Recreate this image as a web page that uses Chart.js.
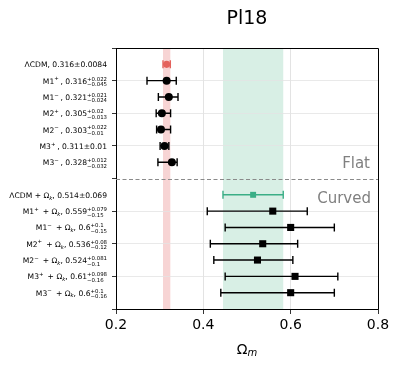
<!DOCTYPE html>
<html>
<head>
<meta charset="utf-8">
<script src="https://cdn.jsdelivr.net/npm/chart.js@4.4.1/dist/chart.umd.min.js"></script>
<style>
html,body{margin:0;padding:0;background:#fff;}
#wrap{width:399px;height:370px;position:relative;}
</style>
</head>
<body>
<div id="wrap"><canvas id="c" width="399" height="370"></canvas></div>
<script>
// ---- data ----
const titleText = 'Pl18';
const modelNames = ['ΛCDM', 'M1', 'M1', 'M2', 'M2', 'M3', 'M3'];
const modelSigns = ['', '+', '−', '+', '−', '+', '−'];
const flatRows = [1, 2, 3, 4, 5, 6, 7];
const flatCenter = [0.316, 0.316, 0.321, 0.305, 0.303, 0.311, 0.328];
const flatErrPlus = [0.0084, 0.022, 0.021, 0.02, 0.022, 0.01, 0.012];
const flatErrMinus = [0.0084, 0.045, 0.024, 0.013, 0.01, 0.01, 0.032];
const curvedRows = [9, 10, 11, 12, 13, 14, 15];
const curvedCenter = [0.514, 0.559, 0.6, 0.536, 0.524, 0.61, 0.6];
const curvedErrPlus = [0.069, 0.079, 0.1, 0.08, 0.081, 0.098, 0.1];
const curvedErrMinus = [0.069, 0.15, 0.15, 0.12, 0.1, 0.16, 0.16];
const xTicks = [0.2, 0.4, 0.6, 0.8];
const dividerRow = 8;
const groupLabels = ['Flat', 'Curved'];

const RED = '#e4625c', RED_BAND = '#f7d4d4';
const GREEN = '#3aae86', GREEN_BAND = '#d8efe5';
const FONT = '"DejaVu Sans"';
const BASE = 7.6, SMALL = 5.4;

function toPoints(rows, cen){ return rows.map((r,i)=>({x:cen[i], y:r})); }

function labelParts(i, curved){
  const c = curved ? curvedCenter[i] : flatCenter[i];
  const p = curved ? curvedErrPlus[i] : flatErrPlus[i];
  const m = curved ? curvedErrMinus[i] : flatErrMinus[i];
  const parts = [{t:modelNames[i], s:BASE}];
  if (modelSigns[i]) { parts.push({t:modelSigns[i]+' ', s:SMALL, dy:-3.3}); }
  if (curved) { parts.push({t:' + Ω', s:BASE}); parts.push({t:'k', s:SMALL, dy:1.8, it:true}); }
  parts.push({t:', ' + c, s:BASE});
  if (p === m) parts.push({t:'±' + p, s:BASE});
  else parts.push({sup:'+' + p, sub:'−' + m, s:SMALL});
  return parts;
}
function fontOf(p){ return (p.it ? 'italic ' : '') + p.s + 'px ' + FONT; }
function drawRich(ctx, parts, rightX, y){
  let w = 0;
  const widths = parts.map(p=>{
    ctx.font = fontOf(p);
    const ww = p.sup !== undefined ? Math.max(ctx.measureText(p.sup).width, ctx.measureText(p.sub).width) : ctx.measureText(p.t).width;
    w += ww; return ww;
  });
  let x = rightX - w;
  ctx.textAlign = 'left'; ctx.textBaseline = 'alphabetic'; ctx.fillStyle = '#000';
  parts.forEach((p,k)=>{
    ctx.font = fontOf(p);
    if (p.sup !== undefined){
      ctx.fillText(p.sup, x, y - 3.1);
      ctx.fillText(p.sub, x, y + 2.5);
    } else {
      ctx.fillText(p.t, x, y + (p.dy||0));
    }
    x += widths[k];
  });
}

const customPlugin = {
  id: 'custom',
  beforeDraw(chart){
    const {ctx, chartArea:a, scales:{x}} = chart;
    ctx.save();
    ctx.fillStyle = '#fff'; ctx.fillRect(0,0,chart.width,chart.height);
    const band = (c, e, col)=>{
      const x0 = x.getPixelForValue(c - e), x1 = x.getPixelForValue(c + e);
      ctx.fillStyle = col; ctx.fillRect(x0, a.top, x1 - x0, a.bottom - a.top);
    };
    band(flatCenter[0], flatErrPlus[0], RED_BAND);
    band(curvedCenter[0], curvedErrPlus[0], GREEN_BAND);
    ctx.restore();
  },
  beforeDatasetsDraw(chart){
    const {ctx, chartArea:a, scales:{x,y}} = chart;
    ctx.save();
    ctx.strokeStyle = '#8a8a8a'; ctx.lineWidth = 1; ctx.setLineDash([4,2.5]);
    const yd = Math.round(y.getPixelForValue(dividerRow)) + 0.5;
    ctx.beginPath(); ctx.moveTo(a.left, yd); ctx.lineTo(a.right, yd); ctx.stroke();
    ctx.setLineDash([]);
    const bars = (rows, cen, ep, em, curved)=>{
      rows.forEach((r,i)=>{
        const yy = y.getPixelForValue(r);
        const x0 = x.getPixelForValue(cen[i] - em[i]);
        const x1 = x.getPixelForValue(cen[i] + ep[i]);
        ctx.strokeStyle = i === 0 ? (curved ? GREEN : RED) : '#000';
        ctx.lineWidth = 1.4;
        ctx.beginPath();
        ctx.moveTo(x0, yy); ctx.lineTo(x1, yy);
        ctx.moveTo(x0, yy - 4); ctx.lineTo(x0, yy + 4);
        ctx.moveTo(x1, yy - 4); ctx.lineTo(x1, yy + 4);
        ctx.stroke();
      });
    };
    bars(flatRows, flatCenter, flatErrPlus, flatErrMinus, false);
    bars(curvedRows, curvedCenter, curvedErrPlus, curvedErrMinus, true);
    ctx.restore();
  },
  afterDraw(chart){
    const {ctx, chartArea:a, scales:{x,y}} = chart;
    ctx.save();
    ctx.strokeStyle = '#000'; ctx.lineWidth = 1;
    ctx.beginPath();
    ctx.moveTo(a.left, a.top + 0.5); ctx.lineTo(a.right + 0.5, a.top + 0.5); ctx.lineTo(a.right + 0.5, a.bottom);
    ctx.stroke();
    flatRows.forEach((r,i)=> drawRich(ctx, labelParts(i,false), a.left - 9, y.getPixelForValue(r) + 3));
    curvedRows.forEach((r,i)=> drawRich(ctx, labelParts(i,true), a.left - 9, y.getPixelForValue(r) + 3));
    ctx.fillStyle = '#808080'; ctx.font = '15px ' + FONT; ctx.textAlign = 'right'; ctx.textBaseline = 'alphabetic';
    ctx.fillText(groupLabels[0], a.right - 8, y.getPixelForValue(dividerRow) - 11);
    ctx.fillText(groupLabels[1], a.right - 7, y.getPixelForValue(dividerRow) + 24);
    ctx.fillStyle = '#000'; ctx.font = '19px ' + FONT; ctx.textAlign = 'center';
    ctx.fillText(titleText, (a.left + a.right)/2, 24);
    ctx.font = '14px ' + FONT; ctx.textAlign = 'left';
    const wO = ctx.measureText('Ω').width;
    ctx.font = 'italic 10px ' + FONT;
    const wm = ctx.measureText('m').width;
    const cx = (a.left + a.right)/2 - (wO + wm)/2;
    ctx.font = '14px ' + FONT; ctx.fillText('Ω', cx, 354);
    ctx.font = 'italic 10px ' + FONT; ctx.fillText('m', cx + wO, 356);
    ctx.restore();
  }
};

new Chart(document.getElementById('c'), {
  type: 'scatter',
  data: {
    datasets: [
      { data: toPoints(flatRows, flatCenter), pointStyle: 'circle',
        pointRadius: flatRows.map((r,i)=> i===0 ? 3.6 : 4),
        pointBackgroundColor: flatRows.map((r,i)=> i===0 ? RED : '#000'),
        pointBorderColor: flatRows.map((r,i)=> i===0 ? RED : '#000'), pointBorderWidth: 0 },
      { data: toPoints(curvedRows, curvedCenter), pointStyle: 'rect',
        pointRadius: curvedRows.map((r,i)=> i===0 ? 4.2 : 5),
        pointBackgroundColor: curvedRows.map((r,i)=> i===0 ? GREEN : '#000'),
        pointBorderColor: curvedRows.map((r,i)=> i===0 ? GREEN : '#000'), pointBorderWidth: 0 }
    ]
  },
  options: {
    responsive: false, animation: false, devicePixelRatio: 1,
    layout: { padding: { top: 48, right: 21, left: 0, bottom: 0 } },
    plugins: { legend: {display:false}, tooltip: {enabled:false}, title: {display:false} },
    scales: {
      x: {
        type: 'linear', min: 0.2, max: 0.8,
        afterBuildTicks(s){ s.ticks = xTicks.map(v=>({value:v})); },
        ticks: { callback: v => Number(v).toFixed(1), color: '#000', font: {family: 'DejaVu Sans', size: 14}, padding: 3, maxRotation: 0 },
        grid: { color: c => (c.tick && (c.tick.value === 0.4 || c.tick.value === 0.6)) ? '#dcdcdc' : 'rgba(0,0,0,0)', tickColor: '#000', tickLength: 5, lineWidth: 0.8 },
        border: { color: '#000', width: 1 },
        afterFit(s){ s.height = 61; }
      },
      y: {
        type: 'linear', min: 0, max: 16, reverse: true,
        afterBuildTicks(s){ const t=[]; for(let i=0;i<=16;i++) t.push({value:i}); s.ticks = t; },
        ticks: { callback: () => '', padding: 0 },
        grid: { color: c => (c.tick && [0,8,16].includes(c.tick.value)) ? 'rgba(0,0,0,0)' : '#e3e3e3', tickColor: '#000', tickLength: 4, lineWidth: 0.8 },
        border: { color: '#000', width: 1 },
        afterFit(s){ s.width = 116; }
      }
    }
  },
  plugins: [customPlugin]
});
</script>
</body>
</html>
